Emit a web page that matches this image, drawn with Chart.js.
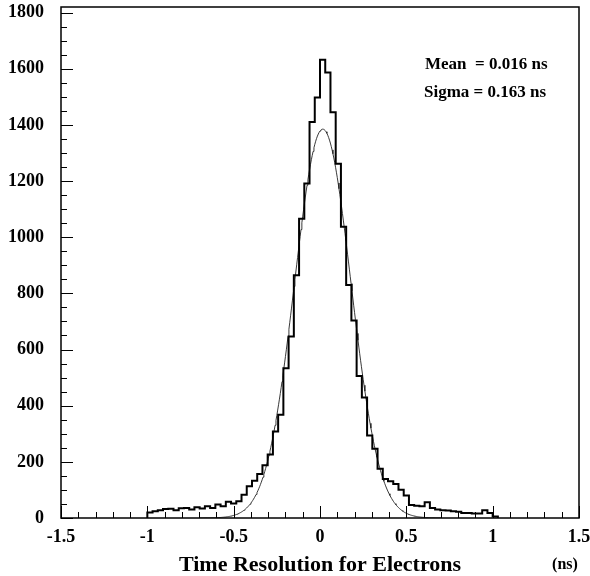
<!DOCTYPE html>
<html>
<head>
<meta charset="utf-8">
<script src="https://cdn.jsdelivr.net/npm/chart.js@4.4.1/dist/chart.umd.min.js"></script>
<style>
  html, body { margin: 0; padding: 0; background: #ffffff; }
  canvas { display: block; }
</style>
</head>
<body>
<canvas id="c" width="590" height="576"></canvas>
<script>
// ---- Data ----
const binStart = -1.0;          // left edge of first bin (ns)
const binWidth = 2 / 66;        // bin width (ns)
const counts = [
  20, 24, 28, 32, 33, 28, 35, 36, 30, 38,
  34, 42, 36, 48, 42, 58, 52, 60, 83, 113,
  133, 157, 188, 226, 308, 368, 533, 646, 865, 1066,
  1191, 1410, 1498, 1632, 1587, 1445, 1262, 1037, 830, 703,
  506, 429, 294, 247, 175, 139, 131, 121, 101, 80,
  46, 44, 42, 56, 36, 30, 28, 27, 24, 22,
  18, 18, 16, 16, 28, 18, 5
];
// Gaussian fit parameters (as printed on the chart)
const fitMean = 0.016;
const fitSigma = 0.163;
const fitAmplitude = 1385;
const fitRange = [-0.7, 0.7];

const xTickValues = [-1.5, -1, -0.5, 0, 0.5, 1, 1.5];
const xTickLabels = ['-1.5', '-1', '-0.5', '0', '0.5', '1', '1.5'];
const yTickValues = [0, 200, 400, 600, 800, 1000, 1200, 1400, 1600, 1800];
const yTickLabels = ['0', '200', '400', '600', '800', '1000', '1200', '1400', '1600', '1800'];
const xAxisTitle = 'Time Resolution for Electrons';
const xUnitLabel = '(ns)';
const statLines = ['Mean  = 0.016 ns', 'Sigma = 0.163 ns'];

// ---- Build datasets ----
const histPoints = [{ x: binStart, y: 0 }];
counts.forEach((c, i) => histPoints.push({ x: binStart + (i + 1) * binWidth, y: c }));
histPoints.push({ x: binStart + counts.length * binWidth, y: 0 });

const fitPoints = [];
for (let x = fitRange[0]; x <= fitRange[1] + 1e-9; x += 0.005) {
  fitPoints.push({ x: x, y: fitAmplitude * Math.exp(-0.5 * Math.pow((x - fitMean) / fitSigma, 2)) });
}

const FONT = "'Liberation Serif', 'Times New Roman', serif";

const framePlugin = {
  id: 'frame',
  afterDraw(chart) {
    const { ctx, chartArea: a, scales } = chart;
    const xs = scales.x, ys = scales.y;
    ctx.save();
    ctx.strokeStyle = '#000';
    ctx.lineWidth = 1.5;
    ctx.strokeRect(a.left, a.top, a.right - a.left, a.bottom - a.top);
    ctx.lineWidth = 1;
    ctx.beginPath();
    for (let k = 0; k <= 36; k++) {
      const v = k * 50;
      const py = Math.round(ys.getPixelForValue(v)) + 0.5;
      const len = (v % 200 === 0) ? 12 : 6;
      ctx.moveTo(a.left, py);
      ctx.lineTo(a.left + len, py);
    }
    for (let k = -15; k <= 15; k++) {
      const v = k / 10;
      const px = Math.round(xs.getPixelForValue(v)) + 0.5;
      const len = (k % 5 === 0) ? 12 : 6;
      ctx.moveTo(px, a.bottom);
      ctx.lineTo(px, a.bottom - len);
    }
    ctx.stroke();

    ctx.fillStyle = '#000';
    ctx.textAlign = 'left';
    ctx.textBaseline = 'alphabetic';
    ctx.font = "bold 17px " + FONT;
    ctx.fillText(statLines[0], 425, 69);
    ctx.fillText(statLines[1], 424, 97);
    ctx.textAlign = 'center';
    ctx.font = "bold 16px " + FONT;
    ctx.fillText(xUnitLabel, 565, 569);
    ctx.restore();
  }
};

new Chart(document.getElementById('c'), {
  type: 'scatter',
  data: {
    datasets: [
      {
        label: 'Histogram',
        data: histPoints,
        showLine: true,
        stepped: 'after',
        borderColor: '#000',
        borderWidth: 2,
        pointRadius: 0,
        fill: false
      },
      {
        label: 'Gaussian fit',
        data: fitPoints,
        showLine: true,
        borderColor: '#222',
        borderWidth: 0.9,
        pointRadius: 0,
        tension: 0,
        fill: false
      }
    ]
  },
  options: {
    responsive: false,
    animation: false,
    devicePixelRatio: 1,
    layout: { padding: { left: 0, right: 11, top: 7, bottom: 0 } },
    plugins: { legend: { display: false }, tooltip: { enabled: false } },
    scales: {
      x: {
        type: 'linear',
        min: -1.5,
        max: 1.5,
        afterBuildTicks(scale) { scale.ticks = xTickValues.map(v => ({ value: v })); },
        afterFit(scale) { scale.height = 58; scale.paddingLeft = 0; scale.paddingRight = 0; },
        grid: { display: false, drawTicks: false },
        border: { display: false },
        ticks: {
          autoSkip: false,
          maxRotation: 0,
          padding: 9,
          color: '#000',
          font: { family: FONT, size: 18, weight: 'bold' },
          callback: (v) => { const i = xTickValues.indexOf(v); return i >= 0 ? xTickLabels[i] : ''; }
        },
        title: {
          display: true,
          text: xAxisTitle,
          color: '#000',
          font: { family: FONT, size: 22, weight: 'bold', lineHeight: 1.0 },
          padding: { top: 0, bottom: 0 }
        }
      },
      y: {
        type: 'linear',
        min: 0,
        max: 1820,
        afterBuildTicks(scale) { scale.ticks = yTickValues.map(v => ({ value: v })); },
        afterFit(scale) { scale.width = 61; scale.paddingTop = 0; scale.paddingBottom = 0; },
        grid: { display: false, drawTicks: false },
        border: { display: false },
        ticks: {
          autoSkip: false,
          padding: 17,
          color: '#000',
          font: { family: FONT, size: 18, weight: 'bold' },
          callback: (v) => { const i = yTickValues.indexOf(v); return i >= 0 ? yTickLabels[i] : ''; }
        }
      }
    }
  },
  plugins: [framePlugin]
});
</script>
</body>
</html>
